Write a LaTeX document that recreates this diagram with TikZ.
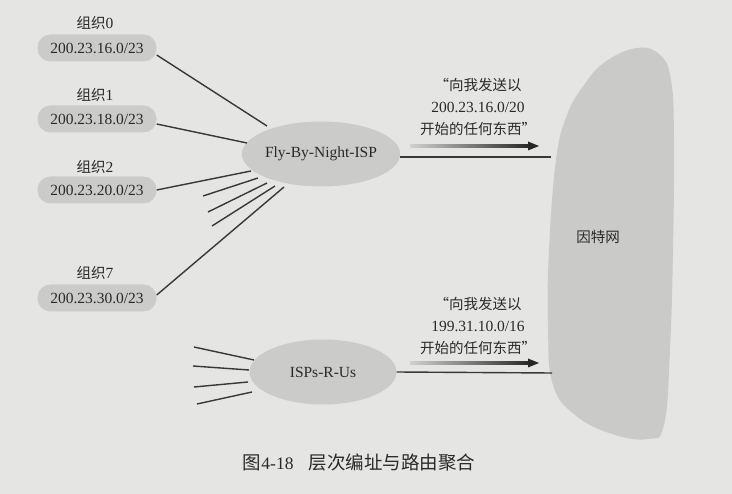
\documentclass[tikz,border=0pt]{standalone}
\usepackage{fontspec}
\setmainfont{Liberation Serif}
\newfontfamily\cjk{Noto Sans CJK SC}
\usetikzlibrary{shapes.geometric}
\definecolor{bg}{HTML}{E5E5E3}
\definecolor{blob}{HTML}{CBCBCA}
\definecolor{netblob}{HTML}{CACAC9}
\definecolor{ink}{HTML}{2A2A2A}
\definecolor{wirec}{HTML}{383838}
\newcommand\zh[1]{{\cjk\fontsize{14.5}{22}\selectfont #1}}
\newcommand\latfont{\fontsize{15.5}{22}\selectfont}
\begin{document}
\begin{tikzpicture}[x=1pt,y=-1pt,
  orgblob/.style={rectangle, rounded corners=13pt, fill=blob, minimum width=119pt,
     minimum height=27pt, inner sep=0pt, text=ink, font=\latfont},
  ispblob/.style={ellipse, fill=blob, minimum width=153pt, minimum height=65pt,
     inner sep=0pt, text=ink, font=\latfont},
  lbl/.style={text=ink, inner sep=0pt, font=\latfont},
  wire/.style={draw=wirec, line width=1.4pt}]
\useasboundingbox (0,0) rectangle (732,494);
\fill[bg] (0,0) rectangle (732,494);

% Internet cloud
\fill[netblob] plot[smooth cycle, tension=0.7] coordinates {
  (637,48) (605,62) (584,85) (567,115) (556,160) (549,250) (548,330)
  (553,385) (575,415) (612,434) (648,439) (664,425) (670,350) (673,250)
  (674,140) (671,80) (660,55)};
\node[lbl] (inet) at (598,237) {\zh{因特网}};

% organisations
\node[lbl] (l0) at (95,23) {\zh{组织}0};
\node[orgblob] (o0) at (97,48) {200.23.16.0/23};
\node[lbl] (l1) at (95,95) {\zh{组织}1};
\node[orgblob] (o1) at (97,119) {200.23.18.0/23};
\node[lbl] (l2) at (95,167) {\zh{组织}2};
\node[orgblob] (o2) at (97,190) {200.23.20.0/23};
\node[lbl] (l7) at (95,273) {\zh{组织}7};
\node[orgblob] (o7) at (97,298) {200.23.30.0/23};

% ISPs
\node[ispblob] (fly) at (321,154) {Fly-By-Night-ISP};
\node[ispblob, minimum width=147pt] (isp) at (323,372) {ISPs-R-Us};

% connector end points
\coordinate (f0) at (267,126);
\coordinate (f1) at (247,143);
\coordinate (f2) at (251,171);
\coordinate (f3) at (258,178);
\coordinate (f4) at (267,183);
\coordinate (f5) at (275,186);
\coordinate (f6) at (284,187);
\coordinate (s3) at (203,196);
\coordinate (s4) at (208,212);
\coordinate (s5) at (212,226);
\coordinate (r0) at (194,347);
\coordinate (r1) at (193,366);
\coordinate (r2) at (194,387);
\coordinate (r3) at (197,404);
\coordinate (q0) at (254,360);
\coordinate (q1) at (249,370);
\coordinate (q2) at (248,382);
\coordinate (q3) at (252,392);
\coordinate (i1) at (551,157);
\coordinate (i2) at (552,373);

\draw[wire] ([yshift=-7pt]o0.east) -- (f0);
\draw[wire] ([yshift=-5pt]o1.east) -- (f1);
\draw[wire] (o2.east) -- (f2);
\draw[wire] (s3) -- (f3);
\draw[wire] (s4) -- (f4);
\draw[wire] (s5) -- (f5);
\draw[wire] ([yshift=3pt]o7.east) -- (f6);
\draw[wire] (r0) -- (q0);
\draw[wire] (r1) -- (q1);
\draw[wire] (r2) -- (q2);
\draw[wire] (r3) -- (q3);
\draw[wire] ([yshift=-3pt]fly.east) -- (i1);
\draw[wire] (isp.east) -- (i2);

% advertisements
\node[lbl, align=center] (t1) at (478,107)
  {\zh{“向我发送以}\\200.23.16.0/20\\\zh{开始的任何东西”}};
\node[lbl, align=center] (t2) at (478,326)
  {\zh{“向我发送以}\\199.31.10.0/16\\\zh{开始的任何东西”}};

% shaded arrows
\coordinate (a1s) at (410,146);
\coordinate (a1e) at (539,146);
\coordinate (a2s) at (410,363);
\coordinate (a2e) at (539,363);
\shade[left color=black!18, right color=black!85]
  ([yshift=1.8pt]a1s) rectangle ([xshift=-9pt,yshift=-1.8pt]a1e);
\fill[black!85] ([xshift=-11pt,yshift=4.5pt]a1e) -- (a1e) -- ([xshift=-11pt,yshift=-4.5pt]a1e) -- cycle;
\shade[left color=black!18, right color=black!85]
  ([yshift=1.8pt]a2s) rectangle ([xshift=-9pt,yshift=-1.8pt]a2e);
\fill[black!85] ([xshift=-11pt,yshift=4.5pt]a2e) -- (a2e) -- ([xshift=-11pt,yshift=-4.5pt]a2e) -- cycle;

% caption
\node[lbl] (cap) at (359,463)
  {{\cjk\fontsize{18.5}{22}\selectfont 图}{\fontsize{17.5}{22}\selectfont 4-18}\hspace{15pt}{\cjk\fontsize{18.5}{22}\selectfont 层次编址与路由聚合}};
\end{tikzpicture}
\end{document}
